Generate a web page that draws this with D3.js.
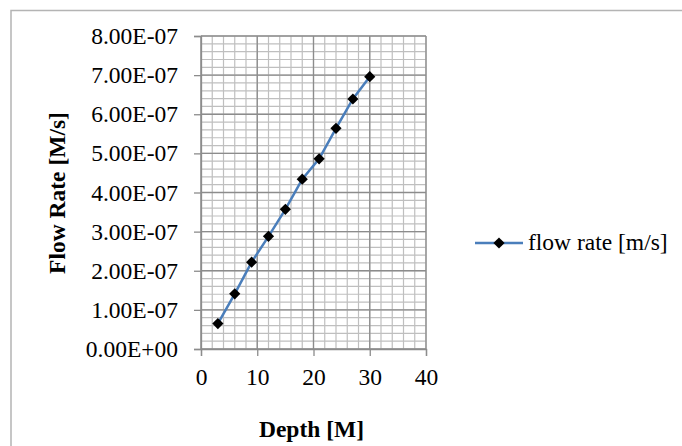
<!DOCTYPE html>
<html>
<head>
<meta charset="utf-8">
<script src="https://cdn.jsdelivr.net/npm/d3@7"></script>
<style>
  body { margin: 0; background: #fff; }
  svg { display: block; font-family: "Liberation Serif", "Times New Roman", serif; }
</style>
</head>
<body>
<svg id="chart" width="682" height="446"></svg>
<script>
// data
var depth = [3, 6, 9, 12, 15, 18, 21, 24, 27, 30];
var flowRate = [0.65e-7, 1.41e-7, 2.22e-7, 2.88e-7, 3.57e-7, 4.34e-7, 4.86e-7, 5.64e-7, 6.39e-7, 6.96e-7];
var xTicks = [0, 10, 20, 30, 40];
var yTicks = [0, 1e-7, 2e-7, 3e-7, 4e-7, 5e-7, 6e-7, 7e-7, 8e-7];
var seriesName = "flow rate [m/s]";

var svg = d3.select("#chart");
var margin = {left: 201, top: 36, right: 256, bottom: 97};
var width = 682 - margin.left - margin.right,
    height = 446 - margin.top - margin.bottom;

// outer frame
svg.append("path")
  .attr("d", "M11,450 V10.5 H690")
  .attr("fill", "none")
  .attr("stroke", "#b4b4b4")
  .attr("stroke-width", 1.5);

var x = d3.scaleLinear().domain([0, 40]).range([0, width]);
var y = d3.scaleLinear().domain([0, 8e-7]).range([height, 0]);

var g = svg.append("g").attr("transform", "translate(" + margin.left + "," + margin.top + ")");

// minor grid
g.append("g").selectAll("line")
  .data(d3.range(0, 41, 2))
  .join("line")
  .attr("x1", function(d) { return x(d); })
  .attr("x2", function(d) { return x(d); })
  .attr("y1", 0).attr("y2", height)
  .attr("stroke", "#bfbfbf").attr("stroke-width", 1.2);

g.append("g").selectAll("line")
  .data(d3.range(0, 41).map(function(i) { return i * 0.2e-7; }))
  .join("line")
  .attr("x1", 0).attr("x2", width)
  .attr("y1", function(d) { return y(d); })
  .attr("y2", function(d) { return y(d); })
  .attr("stroke", "#bfbfbf").attr("stroke-width", 1.2);

// major grid
g.append("g").selectAll("line")
  .data(xTicks)
  .join("line")
  .attr("x1", function(d) { return x(d); })
  .attr("x2", function(d) { return x(d); })
  .attr("y1", 0).attr("y2", height)
  .attr("stroke", "#8c8c8c").attr("stroke-width", 1.3);

g.append("g").selectAll("line")
  .data(yTicks)
  .join("line")
  .attr("x1", 0).attr("x2", width)
  .attr("y1", function(d) { return y(d); })
  .attr("y2", function(d) { return y(d); })
  .attr("stroke", "#8c8c8c").attr("stroke-width", 1.3);

// axes
var xAxis = d3.axisBottom(x).tickValues(xTicks).tickSize(7).tickPadding(12);
var yAxis = d3.axisLeft(y).tickValues(yTicks).tickSize(7).tickPadding(16)
  .tickFormat(function(d) { return d3.format(".2e")(d).replace("e", "E").replace(/E([+-])(\d)$/, "E$10$2"); });

var gx = g.append("g").attr("transform", "translate(0," + height + ")").call(xAxis);
var gy = g.append("g").call(yAxis);
[gx, gy].forEach(function(a) {
  a.select(".domain").attr("stroke", "#8c8c8c").attr("stroke-width", 1.3);
  a.selectAll(".tick line").attr("stroke", "#8c8c8c").attr("stroke-width", 1.3);
  a.selectAll("text").attr("font-family", "Liberation Serif").attr("font-size", 23.5).attr("fill", "#000");
});

// series
var line = d3.line()
  .x(function(d, i) { return x(depth[i]); })
  .y(function(d) { return y(d); });

g.append("path")
  .datum(flowRate)
  .attr("d", line)
  .attr("fill", "none")
  .attr("stroke", "#4a7ebb")
  .attr("stroke-width", 2.5);

var diamond = d3.symbol().type(d3.symbolDiamond2).size(80);
g.selectAll(".pt")
  .data(flowRate)
  .join("path")
  .attr("class", "pt")
  .attr("d", diamond)
  .attr("transform", function(d, i) { return "translate(" + x(depth[i]) + "," + y(d) + ")"; })
  .attr("fill", "#000");

// axis titles
svg.append("text")
  .attr("x", margin.left + width / 2 - 2)
  .attr("y", 437)
  .attr("text-anchor", "middle")
  .attr("font-weight", "bold")
  .attr("font-size", 23.5)
  .text("Depth [M]");

svg.append("text")
  .attr("transform", "translate(65,193) rotate(-90)")
  .attr("text-anchor", "middle")
  .attr("font-weight", "bold")
  .attr("font-size", 23.5)
  .text("Flow Rate [M/s]");

// legend
var leg = svg.append("g").attr("transform", "translate(475,243)");
leg.append("line")
  .attr("x1", 0).attr("x2", 48)
  .attr("stroke", "#4a7ebb").attr("stroke-width", 2.5);
leg.append("path")
  .attr("d", diamond)
  .attr("transform", "translate(24,0)")
  .attr("fill", "#000");
leg.append("text")
  .attr("x", 53)
  .attr("y", 7)
  .attr("font-size", 23.5)
  .text(seriesName);
</script>
</body>
</html>
